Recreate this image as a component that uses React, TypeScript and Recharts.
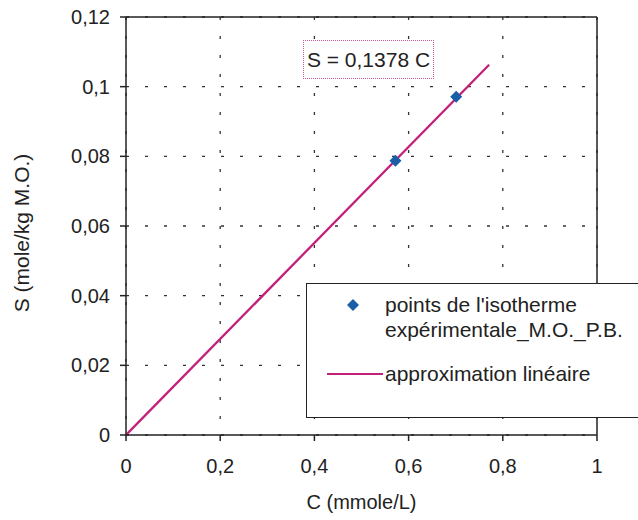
import React from 'react';
import {
  ComposedChart,
  Scatter,
  Line,
  XAxis,
  YAxis,
  CartesianGrid,
  ReferenceLine,
  Legend,
} from 'recharts';

// experimental isotherm points
const pointC = [0.572, 0.701];
const pointS = [0.0787, 0.0971];

// linear fit S = 0,1378 C, drawn from origin to end of the line
const fitC = [0, 0.771];
const fitS = [0, 0.1063];

const xTicks = [0, 0.2, 0.4, 0.6, 0.8, 1];
const yTicks = [0, 0.02, 0.04, 0.06, 0.08, 0.1, 0.12];

const POINTS_NAME = "points de l'isotherme expérimentale_M.O._P.B.";
const FIT_NAME = 'approximation linéaire';
const EQUATION = 'S = 0,1378 C';

const points = pointC.map((c, i) => ({ c, s: pointS[i] }));
const fit = fitC.map((c, i) => ({ c, s: fitS[i] }));

const FONT = '"Liberation Sans", Arial, Helvetica, sans-serif';
const INK = '#222';
const BLUE = '#1a5ea8';
const PINK = '#c2207a';

const fmt = (v: number) => String(v).replace('.', ',');

const Diamond = (props: any) => {
  const { cx, cy } = props;
  const r = 6;
  return (
    <polygon
      points={`${cx},${cy - r} ${cx + r},${cy} ${cx},${cy + r} ${cx - r},${cy}`}
      fill={BLUE}
    />
  );
};

const renderLegend = () => (
  <div
    style={{
      position: 'relative',
      width: '100%',
      height: '100%',
      fontFamily: FONT,
      fontSize: 21,
      color: INK,
      lineHeight: '25px',
    }}
  >
    <svg width={80} height={136} style={{ position: 'absolute', left: 0, top: 0 }}>
      <polygon points="46,15 52,21 46,27 40,21" fill={BLUE} />
      <line x1={20} y1={90} x2={76} y2={90} stroke={PINK} strokeWidth={2} />
    </svg>
    <div style={{ position: 'absolute', left: 78, top: 8 }}>
      points de l'isotherme
      <br />
      expérimentale_M.O._P.B.
    </div>
    <div style={{ position: 'absolute', left: 78, top: 77 }}>{FIT_NAME}</div>
  </div>
);

export default function App() {
  return (
    <div
      style={{
        position: 'absolute',
        left: 0,
        top: 0,
        width: 638,
        height: 520,
        overflow: 'hidden',
        background: '#fff',
        fontFamily: FONT,
      }}
    >
      <ComposedChart
        width={638}
        height={520}
        margin={{ top: 17, right: 41, left: 0, bottom: 0 }}
      >
        <CartesianGrid stroke="#333" strokeDasharray="3 16" strokeWidth={1.3} />
        <XAxis
          dataKey="c"
          type="number"
          domain={[0, 1]}
          ticks={xTicks}
          tickFormatter={fmt}
          height={85}
          tickSize={6}
          tickMargin={18}
          stroke={INK}
          strokeWidth={1.5}
          tick={{ fill: INK, fontSize: 20, fontFamily: FONT }}
          allowDataOverflow
          label={{
            value: 'C (mmole/L)',
            position: 'insideBottom',
            offset: 11,
            fill: INK,
            fontSize: 20,
            fontFamily: FONT,
          }}
        />
        <YAxis
          dataKey="s"
          type="number"
          domain={[0, 0.12]}
          ticks={yTicks}
          tickFormatter={fmt}
          width={126}
          tickSize={6}
          tickMargin={10}
          stroke={INK}
          strokeWidth={1.5}
          tick={{ fill: INK, fontSize: 20, fontFamily: FONT }}
          allowDataOverflow
          label={{
            content: () => (
              <text
                x={21}
                y={233}
                transform="rotate(-90 21 233)"
                textAnchor="middle"
                dominantBaseline="central"
                fill={INK}
                fontSize={21}
                fontFamily={FONT}
              >
                S (mole/kg M.O.)
              </text>
            ),
          }}
        />
        <ReferenceLine y={0.12} stroke={INK} strokeWidth={1.5} />
        <ReferenceLine x={1} stroke={INK} strokeWidth={1.5} />
        <Line
          data={fit}
          dataKey="s"
          name={FIT_NAME}
          stroke={PINK}
          strokeWidth={2.3}
          dot={false}
          isAnimationActive={false}
          legendType="line"
        />
        <Scatter
          data={points}
          dataKey="s"
          name={POINTS_NAME}
          fill={BLUE}
          shape={Diamond}
          legendType="diamond"
          isAnimationActive={false}
        />
        <Legend
          layout="horizontal"
          verticalAlign="middle"
          align="center"
          content={renderLegend}
          wrapperStyle={{
            position: 'absolute',
            left: 306,
            top: 283,
            width: 360,
            height: 135,
            border: '1.5px solid #222',
            background: '#fff',
            boxSizing: 'border-box',
          }}
        />
      </ComposedChart>
      <div
        style={{
          position: 'absolute',
          left: 303,
          top: 40,
          width: 131,
          height: 39,
          boxSizing: 'border-box',
          border: '1px dotted #cf5c9e',
          fontSize: 21,
          color: INK,
          lineHeight: '37px',
          textAlign: 'center',
          background: '#fff',
        }}
      >
        {EQUATION}
      </div>
    </div>
  );
}
